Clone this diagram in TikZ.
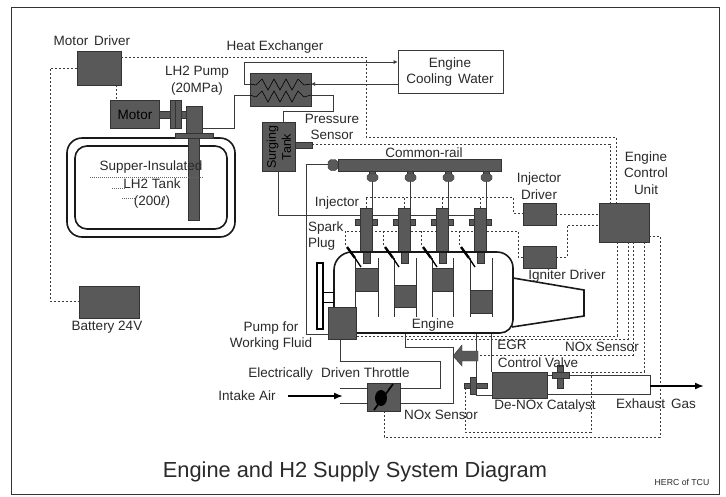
\documentclass[tikz,border=0pt]{standalone}
\usepackage{fontspec}
\setmainfont{Liberation Sans}
\newfontfamily\dejavu{DejaVu Sans}
\usetikzlibrary{arrows.meta}
\definecolor{boxfill}{HTML}{595959}
\definecolor{linec}{HTML}{3A3A3A}
\definecolor{txtc}{HTML}{2A2A2A}
\tikzset{
 dark/.style={draw=black!80,line width=.5pt,fill=boxfill,inner sep=0pt},
 lbl/.style={text=txtc,font=\fontsize{13.5}{15}\selectfont,inner sep=0pt,align=center},
 pipe/.style={draw=linec,line width=.7pt},
 sig/.style={draw=linec,line width=.7pt,dash pattern=on 2.4pt off 1.6pt},
 bold/.style={draw=black!90,line width=1.6pt},
 flow/.style={-{Latex[length=4pt,width=4pt]},draw=linec,line width=.7pt},
 thick arrow/.style={-{Latex[length=9pt,width=7pt]},draw=black,line width=1.7pt},
}
\begin{document}
\begin{tikzpicture}[x=1pt,y=-1pt]
\useasboundingbox (0,0) rectangle (726,496);
\fill[white] (0,0) rectangle (726,496);
\draw[draw=black!80,line width=.9pt] (11,7) rectangle (719,494);
% pipes
\node[draw=linec,line width=.7pt,minimum width=105pt,minimum height=43pt,inner sep=0pt] (ecw) at (450.5,71.5) {};
\draw[flow] (250,84) -- (244,84) -- (244,62) -- (ecw.west |- 0,62);
\draw[flow] (ecw.west |- 0,84) -- (311,84);
\draw[pipe] (250,95) -- (234,95) -- (234,128) -- (202,128);
\draw[pipe] (311,95) -- (333,95) -- (333,111) -- (283,111) -- (283,122);
\draw[pipe] (278,171) -- (278,215) -- (474,215);
\draw[pipe] (328,164) -- (306,164) -- (306,334) -- (328,334);
% signals
\draw[sig] (121,57) -- (366,57) -- (366,137) -- (616,137) -- (616,203);
\draw[sig] (312,144) -- (610,144) -- (610,203);
\draw[sig] (77,68) -- (50,68) -- (50,301) -- (79,301);
\draw[sig] (116,85) -- (116,100);
\draw[sig] (345,245) -- (345,231) -- (518,231) -- (518,257) -- (523,257);
\foreach \i in {0,38,76,114} \draw[sig] (366+\i,208) -- (366+\i,197);
\draw[sig] (366,197) -- (513,197) -- (513,213) -- (523,213);
\foreach \i in {38,76,114} \draw[sig] (345+\i,245) -- (345+\i,231);
\draw[sig] (556,214) -- (599,214);
\draw[sig] (556,257) -- (567,257) -- (567,225) -- (599,225);
\draw[sig] (617,242) -- (617,336) -- (356,336);
\draw[sig] (628,242) -- (628,339) -- (405,339);
\draw[sig] (633,242) -- (633,355) -- (478,355);
\draw[sig] (644,242) -- (644,372) -- (569,372);
\draw[sig] (649,236) -- (660,236) -- (660,437) -- (384,437) -- (384,411);
\draw[sig] (465,388) -- (465,432) -- (591,432) -- (591,372);
% boxes
\path[dark] (77,51) rectangle (121,85);
\path[dark] (79,286) rectangle (139,318);
\path[dark] (110,100) rectangle (159,128);
\path[dark] (159,111) rectangle (186,118);
\path[dark] (170,100) rectangle (181,128);
\draw[black!80,line width=.5pt] (175,100) -- (175,128);
% tank
\draw[bold,rounded corners=15pt] (67,138) rectangle (235,237);
\draw[bold,rounded corners=12pt] (75,146) rectangle (227,229);
\path[dark] (186,106) rectangle (202,136);
\path[dark] (175,133) rectangle (213,138);
\path[dark] (188,138) rectangle (199,220);
\foreach \a/\b/\c in {90/203/177,112/125/188,122/135/198}
  \draw[black!60,line width=.5pt,dash pattern=on 1pt off 1pt] (\a,\c) -- (\b,\c);
% heat exchanger
\path[dark] (250,73) rectangle (311,106);
\draw[black,line width=.6pt] (250,84) -- (256,85) -- (262,79) -- (268,90) -- (274,79) -- (280,90) -- (286,79) -- (292,90) -- (298,79) -- (304,85) -- (311,84);
\draw[black,line width=.6pt] (250,95) -- (256,97) -- (262,91) -- (268,102) -- (274,91) -- (280,102) -- (286,91) -- (292,102) -- (298,91) -- (304,97) -- (311,95);
% surging tank
\path[dark] (262,122) rectangle (295,171);
\path[dark] (295,142) rectangle (312,148);
\node[lbl,rotate=90,font=\fontsize{12.5}{15}\selectfont,text=black] (stank) at (279,147) {Surging\\Tank};
% rail
\path[dark] (338,159) rectangle (501,171);
\fill[boxfill,draw=black!80,line width=.4pt] (328,162) -- (331,159.5) -- (335,159.5) -- (338,162) -- (338,168) -- (335,170.5) -- (331,170.5) -- (328,168) -- cycle;
% injectors
\foreach \i in {0,38,76,114} {
  \draw[pipe] (372+\i,178) -- (372+\i,225);
  \fill[boxfill,draw=black!80,line width=.4pt] (369+\i,171) rectangle (375+\i,174);
  \fill[boxfill,draw=black!80,line width=.4pt] (367+\i,176) -- (370+\i,173.5) -- (375+\i,173.5) -- (378+\i,176) -- (378+\i,179) -- (375+\i,181.5) -- (370+\i,181.5) -- (367+\i,179) -- cycle;
  \path[dark] (360+\i,208) rectangle (372+\i,252);
  \path[dark] (363+\i,252) rectangle (370+\i,263);
  \path[dark] (355+\i,219) rectangle (360+\i,225);
  \path[dark] (372+\i,219) rectangle (377+\i,225);
}
% engine
\draw[bold] (334,307) -- (334,270) arc[start angle=180,end angle=270,radius=18] -- (497,252) arc[start angle=270,end angle=360,radius=16] -- (513,320) arc[start angle=0,end angle=90,radius=13] -- (356,333);
\draw[bold] (513,278) -- (584,290) -- (584,316) -- (512,327);
\foreach \a/\b/\t/\u in {355/378/268/291,394/416/285/307,432/453/268/291,470/492/290/313} {
  \draw[pipe,black!80] (\a,258) -- (\a,317);
  \draw[pipe,black!80] (\b,258) -- (\b,317);
  \path[dark] (\a,\t) rectangle (\b,\u);
}
\foreach \i in {0,38,76,114} {
  \draw[black,line width=2.4pt] (347+\i,247) -- (355+\i,258);
  \draw[black,line width=1.3pt] (355+\i,258) -- (361+\i,267);
}
% flywheel
\draw[draw=black,line width=1.5pt,fill=white] (317,263) rectangle (323,329);
\draw[black,line width=1pt] (323,292) -- (334,292);
\draw[black,line width=1pt] (323,302) -- (334,302);
\path[dark] (328,307) rectangle (356,339);
% EGR & exhaust
\draw[pipe] (405,334) -- (405,347) -- (453,347) -- (453,403) -- (400,403);
\draw[pipe] (400,388) -- (440,388) -- (440,361) -- (340,361) -- (340,339);
\draw[pipe] (476,334) -- (476,395) -- (492,395);
\draw[pipe] (491,334) -- (491,372);
\draw[pipe] (340,388) -- (367,388);
\draw[pipe] (340,403) -- (367,403);
\fill[boxfill,draw=black!80,line width=.4pt] (478,351) -- (462,351) -- (462,345) -- (453,356) -- (462,366) -- (462,361) -- (478,361) -- cycle;
\path[dark] (464,383) rectangle (487,388);
\path[dark] (470,377) rectangle (476,394);
\draw[draw=linec,line width=.7pt] (547,375) rectangle (650,394);
\path[dark] (492,372) rectangle (547,398);
\path[dark] (557,365) rectangle (563,388);
\path[dark] (552,372) rectangle (569,378);
\draw[thick arrow] (650,386) -- (704,386);
% throttle
\path[dark] (367,383) rectangle (400,411);
\draw[black,line width=1.7pt] (374,410) -- (393,384);
\fill[black] (381,398) ellipse (6pt and 8pt);
\draw[thick arrow] (288,396) -- (343,396);
% ECU, drivers
\path[dark] (523,203) rectangle (556,225);
\path[dark] (523,246) rectangle (556,268);
\path[dark] (599,203) rectangle (649,242);
% labels
\node[lbl] (tMD) at (92,41) {Motor\, Driver};
\node[lbl,text=black] (tMO) at (135,115) {Motor};
\node[lbl] (tHE) at (275,47) {Heat Exchanger};
\node[lbl] (tLP) at (197,81) {LH2 Pump\\[1.8pt](20MPa)};
\node[lbl] (tEC) at (450,72) {Engine\\[1.8pt]Cooling\, Water};
\node[lbl] (tPS) at (332,127) {Pressure\\[1.8pt]Sensor};
\node[lbl] (tT1) at (151,167) {Supper-Insulated};
\node[lbl] (tT2) at (152,184) {LH2 Tank};
\node[lbl] (tT3) at (152,202) {(200{\dejavu\fontsize{12}{14}\selectfont ℓ})};
\node[lbl] (tCR) at (424,153) {Common-rail};
\node[lbl] (tIN) at (337,203) {Injector};
\node[lbl,align=left,anchor=west] (tSP) at (308,236) {Spark\\[1.8pt]Plug};
\node[lbl] (tID) at (539,186) {Injector\\[1.8pt]Driver};
\node[lbl] (tECU) at (646,173) {Engine\\[1.8pt]Control\\[1.8pt]Unit};
\node[lbl] (tIG) at (567,276) {Igniter Driver};
\node[lbl] (tBA) at (107,327) {Battery 24V};
\node[lbl] (tPU) at (271,336) {Pump for\\[1.8pt]Working Fluid};
\node[lbl] (tEN) at (433,325) {Engine};
\node[lbl] (tEG) at (512,345) {EGR};
\node[lbl] (tCV) at (538,363) {Control Valve};
\node[lbl] (tNO) at (602,347) {NOx Sensor};
\node[lbl] (tNL) at (441,415) {NOx Sensor};
\node[lbl] (tDC) at (545,406) {De-NOx Catalyst};
\node[lbl] (tEX) at (656,404) {Exhaust\, Gas};
\node[lbl] (tET) at (329,374) {Electrically\,\, Driven Throttle};
\node[lbl] (tIA) at (247,396) {Intake Air};
\node[lbl,font=\fontsize{21.8}{24}\selectfont] (tTI) at (355,472) {Engine and H2 Supply System Diagram};
\node[lbl,font=\fontsize{8.7}{10}\selectfont] (tHC) at (682,482) {HERC of TCU};
\end{tikzpicture}
\end{document}
